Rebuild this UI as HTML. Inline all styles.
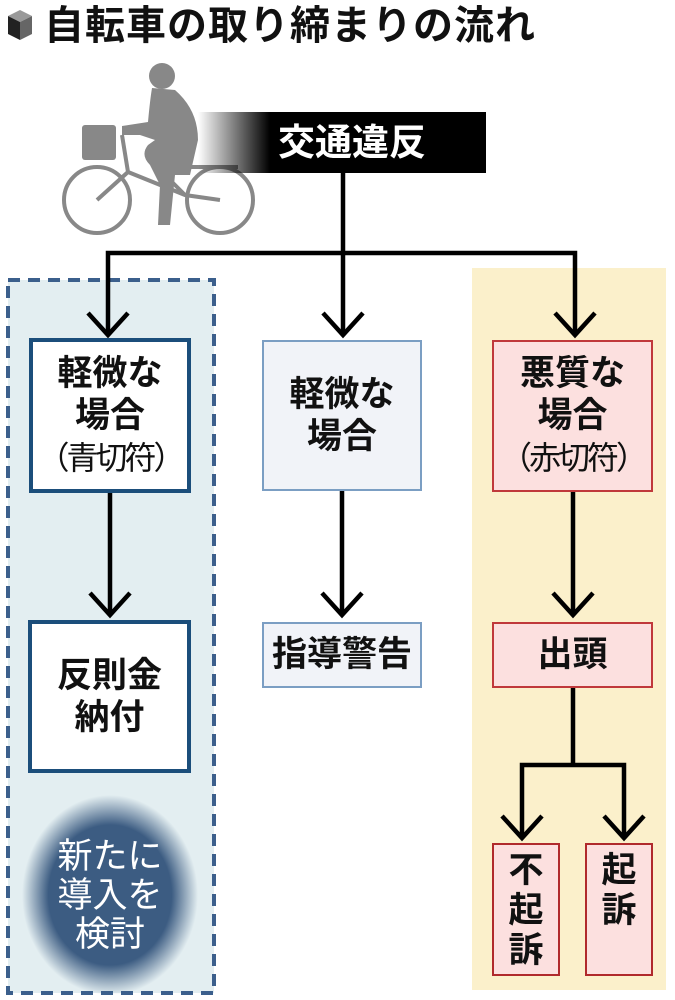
<!DOCTYPE html>
<html><head><meta charset="utf-8"><style>
body{margin:0;width:675px;height:1000px;background:#fff;position:relative;overflow:hidden;font-family:"Liberation Sans","Noto Sans CJK JP",sans-serif;}
.a{position:absolute;box-sizing:border-box;}
.t{display:flex;flex-direction:column;align-items:center;justify-content:center;text-align:center;font-weight:bold;font-size:35px;line-height:42px;color:#111;}
.n{font-weight:normal;white-space:nowrap;font-size:32px;letter-spacing:-3px;}
</style></head><body>
<div class="a" style="left:8px;top:10px;width:24px;height:30px;">
<svg width="24" height="30"><polygon points="12,0 24,6 12,12 0,6" fill="#999"/><polygon points="0,6 12,12 12,30 0,24" fill="#222"/><polygon points="24,6 12,12 12,30 24,24" fill="#666"/></svg></div>
<div class="a" style="left:44px;top:0px;font-size:40px;font-weight:bold;line-height:52px;color:#111;letter-spacing:1px;">自転車の取り締まりの流れ</div>

<svg class="a" style="left:0;top:0" width="675" height="1000">
<defs>
<linearGradient id="g" x1="0" x2="1"><stop offset="0" stop-color="#000" stop-opacity="0"/><stop offset="0.25" stop-color="#000" stop-opacity="1"/></linearGradient>
<radialGradient id="r" cx="0.5" cy="0.5" r="0.5"><stop offset="0.7" stop-color="#3c5c82"/><stop offset="1" stop-color="#3c5c82" stop-opacity="0"/></radialGradient>
</defs>
<rect x="8" y="280" width="206" height="713" fill="#e3eef1" stroke="#3b5f8c" stroke-width="4" stroke-dasharray="12,8"/>
<rect x="472" y="268" width="194" height="722" fill="#fbf0cb"/>
<ellipse cx="110" cy="895" rx="88" ry="100" fill="url(#r)"/>
<g fill="none" stroke="#888" stroke-width="4">
<circle cx="97" cy="200" r="33"/><circle cx="220" cy="200" r="33"/>
<path d="M97 200 L128 172 L185 195 L220 200 M122 135 L128 172 M150 160 L185 195 M175 167 L238 167"/>
</g>
<g fill="#888">
<rect x="82" y="125" width="34" height="35" rx="3"/>
<circle cx="162" cy="76" r="13"/>
<path d="M152 88 L175 90 Q198 110 198 140 L190 175 L175 175 L170 225 L158 225 L160 185 L150 165 Q140 155 148 145 L155 140 L140 135 L122 135 L122 126 L148 122 Q150 100 152 88Z"/>
</g>
<rect x="198" y="112" width="288" height="61" fill="url(#g)"/>
<g stroke="#000" stroke-width="4.5" fill="none">
<path d="M343 173 V335 M108 335 V253 H575 V335"/>
<path d="M88 313 L108 335 L128 313 M323 313 L343 335 L363 313 M555 313 L575 335 L595 313"/>
<path d="M110 492 V615 M90 593 L110 615 L130 593"/>
<path d="M342 490 V615 M322 593 L342 615 L362 593"/>
<path d="M573 492 V615 M553 593 L573 615 L593 593"/>
<path d="M573 688 V765 M522 838 V765 H624 V838 M502 816 L522 838 L542 816 M604 816 L624 838 L644 816"/>
</g>
</svg>
<div class="a t" style="left:198px;top:112px;width:288px;height:61px;color:#fff;font-size:37px;padding-left:20px;">交通違反</div>

<div class="a t" style="left:29px;top:338px;width:162px;height:155px;border:4px solid #1b4e7b;background:#fff;">軽微な<br>場合<br><span class="n">（青切符）</span></div>
<div class="a t" style="left:262px;top:340px;width:160px;height:151px;border:2px solid #7b9ec3;background:#f1f3f8;">軽微な<br>場合</div>
<div class="a t" style="left:492px;top:340px;width:161px;height:152px;border:2px solid #c0393b;background:#fce0df;">悪質な<br>場合<br><span class="n">（赤切符）</span></div>

<div class="a t" style="left:28px;top:620px;width:163px;height:153px;border:4px solid #1b4e7b;background:#fff;">反則金<br>納付</div>
<div class="a t" style="left:262px;top:622px;width:160px;height:66px;border:2px solid #7b9ec3;background:#f1f3f8;">指導警告</div>
<div class="a t" style="left:492px;top:622px;width:161px;height:66px;border:2px solid #c0393b;background:#fce0df;">出頭</div>
<div class="a t" style="left:492px;top:843px;width:68px;height:133px;border:2px solid #b02a2c;background:#fce0df;line-height:40px;justify-content:flex-start;padding-top:6px;">不<br>起<br>訴</div>
<div class="a t" style="left:585px;top:843px;width:68px;height:133px;border:2px solid #b02a2c;background:#fce0df;line-height:40px;justify-content:flex-start;padding-top:6px;">起<br>訴</div>

<div class="a t" style="left:20px;top:835px;width:180px;height:120px;color:#fff;font-weight:normal;font-size:35px;line-height:39px;">新たに<br>導入を<br>検討</div>
</body></html>
